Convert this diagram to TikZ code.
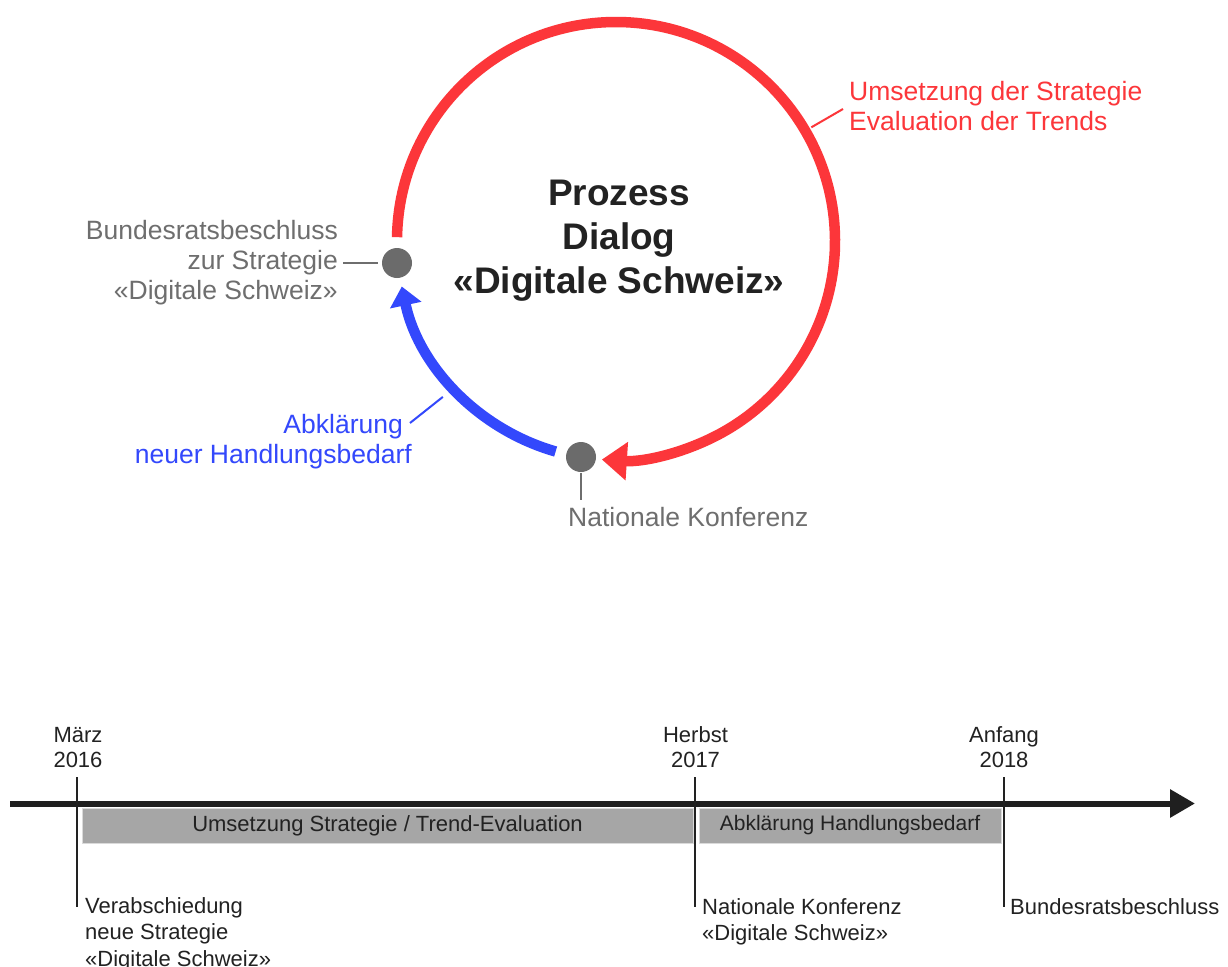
\documentclass[tikz,border=0pt]{standalone}
\usepackage{fontspec}
\setmainfont{Liberation Sans}
\usetikzlibrary{arrows.meta}
\definecolor{cred}{HTML}{FC363A}
\definecolor{cblue}{HTML}{3348FC}
\definecolor{cdot}{HTML}{6B6B6B}
\definecolor{cgray}{HTML}{6E6E6E}
\definecolor{cdark}{HTML}{222222}
\definecolor{cbar}{HTML}{A6A6A6}
\definecolor{cbarline}{HTML}{DADADA}
\begin{document}
\begin{tikzpicture}[x=1pt,y=1pt,
  redarc/.style={draw=cred,line width=10.5pt,-{Triangle[length=25pt,width=37pt]}},
  bluearc/.style={draw=cblue,line width=10.5pt,-{Triangle[length=19pt,width=31pt]}},
  dot/.style={circle,fill=cdot,minimum size=30pt,inner sep=0pt},
  glead/.style={draw=cgray,line width=2pt},
  rlead/.style={draw=cred,line width=2pt},
  blead/.style={draw=cblue,line width=2pt},
  biglbl/.style={inner sep=0pt,font=\fontsize{26.5}{30}\selectfont},
  ctitle/.style={inner sep=0pt,text=cdark,align=center,font=\fontsize{37}{44}\selectfont\bfseries},
  tltext/.style={inner sep=0pt,text=cdark,font=\fontsize{22}{25}\selectfont},
  tlbelow/.style={inner sep=0pt,text=cdark,align=left,font=\fontsize{22}{26.5}\selectfont},
  bar/.style={fill=cbar,draw=cbarline,line width=1pt,minimum height=35pt,inner sep=0pt,text=cdark,font=\fontsize{22}{25}\selectfont},
  tick/.style={draw=cdark,line width=2pt},
  axis/.style={draw=cdark!90!black,line width=6pt,-{Triangle[length=25pt,width=27pt]}}
]
\useasboundingbox (0,0) rectangle (1228,-966);
\fill[white] (0,0) rectangle (1228,-966);

% ---------- circle part ----------
\coordinate (c) at (616,-241);
\node[dot] (br) at (397,-263) {};
\node[dot] (nk) at (581,-457) {};

\draw[redarc] ([shift={(179:219)}]c) arc[start angle=179,end angle=-93.7,radius=219];
\draw[bluearc] ([shift={(254:219)}]c) arc[start angle=254,end angle=192,radius=219];

% multi-line nodes: base anchor = baseline of last line
\node[ctitle,anchor=base] (title) at (619,-293) {Prozess\\Dialog\\«Digitale Schweiz»};

% red label
\node[biglbl,text=cred,align=left,anchor=base west] (rl) at (849,-130) {Umsetzung der Strategie\\Evaluation der Trends};
\coordinate (rla) at ([shift={(30.2:226)}]c);
\draw[rlead] (rla) -- (843,-109);

% Bundesrat label
\node[biglbl,text=cgray,align=right,anchor=base east] (brl) at (338,-299) {Bundesratsbeschluss\\zur Strategie\\«Digitale Schweiz»};
\draw[glead] ([xshift=-4pt]br.west) -- ++(-35,0);

% Nationale Konferenz label
\node[biglbl,text=cgray,anchor=base west] (nkl) at (568,-526) {Nationale Konferenz};
\draw[glead] ([yshift=-1pt]nk.south) -- ++(0,-27);

% blue label
\node[biglbl,text=cblue,align=right,anchor=base east] (bl) at (412,-463) {Abklärung\hspace*{9pt}\\neuer Handlungsbedarf};
\coordinate (bla) at ([shift={(222:233)}]c);
\draw[blead] (bla) -- (410,-423);

% ---------- timeline ----------
\node[bar,minimum width=611pt] (bar1) at (387.5,-825.5) {Umsetzung Strategie / Trend-Evaluation};
\node[bar,minimum width=302pt,font=\fontsize{21}{25}\selectfont] (bar2) at (850,-825.5) {Abklärung Handlungsbedarf};

\coordinate (t0) at (10,-803.5);
\coordinate (t1) at (1195,-803.5);
\draw[axis] (t0) -- (t1);

\coordinate (a1) at (77,-777);  \coordinate (b1) at (77,-907);
\coordinate (a2) at (695,-777); \coordinate (b2) at (695,-907);
\coordinate (a3) at (1004,-777);\coordinate (b3) at (1004,-907);
\draw[tick] (a1) -- (b1);
\draw[tick] (a2) -- (b2);
\draw[tick] (a3) -- (b3);

\node[tltext,align=center,anchor=base] (d1) at (78,-767) {März\\2016};
\node[tltext,align=center,anchor=base] (d2) at (695.5,-767) {Herbst\\2017};
\node[tltext,align=center,anchor=base] (d3) at (1004,-767) {Anfang\\2018};

\node[tlbelow,anchor=base west] (e1) at (85,-966) {Verabschiedung\\neue Strategie\\«Digitale Schweiz»};
\node[tlbelow,anchor=base west] (e2) at (702,-940.5) {Nationale Konferenz\\«Digitale Schweiz»};
\node[tlbelow,anchor=base west] (e3) at (1010,-914) {Bundesratsbeschluss};
\end{tikzpicture}
\end{document}
